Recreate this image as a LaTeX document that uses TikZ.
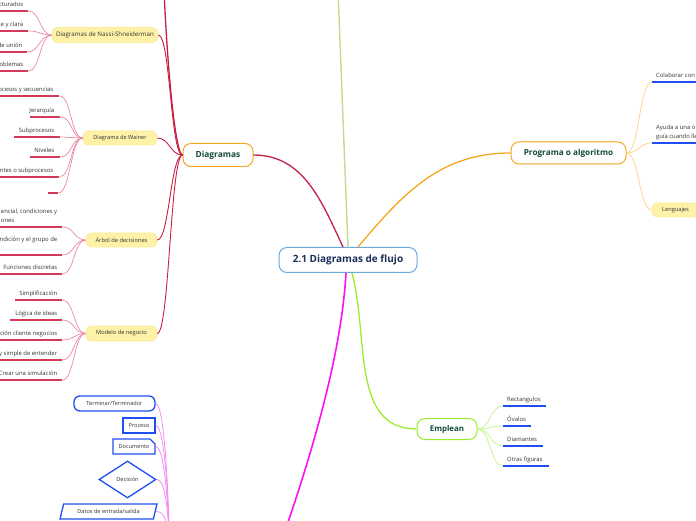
\documentclass[tikz,border=0pt]{standalone}
\usepackage{fontspec}
\setmainfont{Open Sans}
\usetikzlibrary{shapes.geometric,shapes.misc}
\definecolor{cblue}{HTML}{6AA9DC}
\definecolor{navy}{HTML}{1A2E5A}
\definecolor{corange}{HTML}{F5A623}
\definecolor{lorange}{HTML}{FDD58E}
\definecolor{dgreen}{HTML}{124A3A}
\definecolor{clime}{HTML}{98EE2A}
\definecolor{llime}{HTML}{C8F590}
\definecolor{yfill}{HTML}{FDF2A8}
\definecolor{ydraw}{HTML}{FBEA98}
\definecolor{crim}{HTML}{C81E45}
\definecolor{ulred}{HTML}{D33A5A}
\definecolor{lred}{HTML}{E88A9E}
\definecolor{cmag}{HTML}{FF10F0}
\definecolor{lmag}{HTML}{F48CF4}
\definecolor{fblue}{HTML}{1F4FF0}
\definecolor{gline}{HTML}{C6DA8E}
\definecolor{txt}{HTML}{333333}
\newcommand\leaffont{\fontsize{5.9}{8.5}\selectfont}
\newcommand\leafR[7]{%
  \node[leaf, anchor=south west] (#1) at (#2,#3) {\makebox[#4pt][r]{#6\hspace*{#5pt}}};
  \draw[#7] (#1.south west) -- (#1.south east);}
\newcommand\leafLt[7]{%
  \node[leaf, anchor=south west] (#1) at (#2,#3) {\makebox[#4pt][l]{\hspace*{#5pt}#6}};
  \draw[#7] (#1.south west) -- (#1.south east);}
\begin{document}
\begin{tikzpicture}[x=1pt,y=1pt,
  mainbox/.style={draw, line width=1pt, rounded corners=8pt, fill=white, inner sep=1pt},
  ybox/.style={draw=ydraw, fill=yfill, rounded corners=5pt, line width=0.6pt, inner sep=1pt, text=txt, font=\fontsize{5.7}{6.5}\selectfont},
  leaf/.style={inner xsep=0pt, inner ysep=3pt, text depth=1.5pt, text=txt, font=\leaffont},
  ulr/.style={draw=ulred, line width=1.8pt},
  ulb/.style={draw=fblue, line width=1.6pt},
  crimline/.style={draw=crim, line width=1.3pt},
  crimthin/.style={draw=crim, line width=0.9pt},
  redleafline/.style={draw=lred, line width=0.7pt},
  orline/.style={draw=lorange, line width=0.8pt},
  liline/.style={draw=llime, line width=0.8pt},
  magleaf/.style={draw=lmag, line width=0.8pt},
  fc/.style={draw=fblue, line width=1.3pt, fill=white, inner sep=1pt, text=txt, font=\fontsize{5.6}{6.5}\selectfont},
]
\useasboundingbox (0,0) rectangle (696,520);

% off-page ends
\coordinate (gtop) at (338,530);
\coordinate (dtop) at (164,530);
\coordinate (magend) at (260,-80);
\coordinate (fp) at (170,-70);

% main nodes
\node[mainbox, draw=cblue, text=navy, minimum width=138pt, minimum height=25pt, font=\fontsize{10}{11}\selectfont\bfseries] (c) at (348,260) {2.1 Diagramas de flujo};
\node[mainbox, draw=corange, text=dgreen, minimum width=70pt, minimum height=23pt, font=\fontsize{8.4}{9}\selectfont\bfseries] (d) at (218,365) {Diagramas};
\node[mainbox, draw=corange, text=dgreen, minimum width=115pt, minimum height=22pt, font=\fontsize{8.2}{9}\selectfont\bfseries] (p) at (568.5,367) {Programa o algoritmo};
\node[mainbox, draw=clime, text=dgreen, minimum width=60pt, minimum height=21pt, font=\fontsize{7.9}{9}\selectfont\bfseries] (e) at (447,91) {Emplean};

% main connectors
\draw[draw=gline, line width=1.4pt] (c.north) -- (gtop);
\draw[crimline] ([xshift=-5pt]c.north) to[out=115,in=0] (d.east);
\draw[draw=corange, line width=1.3pt] ([xshift=10pt]c.north) to[out=50,in=180] (p.west);
\draw[draw=clime, line width=1.3pt] ([xshift=4pt]c.south) to[out=-75,in=180] (e.west);
\draw[draw=cmag, line width=1.6pt] ([xshift=-2pt]c.south) .. controls (340,140) and (290,0) .. (magend);
\draw[crimline] (d.west) .. controls (176,365) and (168,440) .. (dtop);

% yellow sub nodes
\node[ybox, minimum width=106pt, minimum height=15pt, font=\fontsize{6.2}{7}\selectfont] (ns) at (105,485) {Diagramas de Nassi-Shneiderman};
\node[ybox, minimum width=74pt, minimum height=14pt, font=\fontsize{5.6}{6.5}\selectfont] (wa) at (120,382) {Diagrama de Wainer};
\node[ybox, minimum width=71pt, minimum height=14pt] (ar) at (121.5,280) {Árbol de decisiones};
\node[ybox, minimum width=71pt, minimum height=15pt] (mo) at (121.5,186.5) {Modelo de negocio};
\node[ybox, minimum width=47pt, minimum height=14pt] (le) at (675.5,310) {Lenguajes};

\foreach \n in {ns,wa,ar,mo} \draw[crimthin] (\n.east) .. controls +(12,0) and +(-12,0) .. (d.west);

% Nassi leaves
\leafR{n1}{-5}{509}{33}{5}{cturados}{ulr}
\leafR{n2}{-5}{489}{33}{5}{e y clara}{ulr}
\leafR{n3}{-5}{468}{32}{5}{de unión}{ulr}
\leafR{n4}{-5}{449}{33}{5}{oblemas}{ulr}
\foreach \n in {n1,n2,n3,n4} \draw[redleafline] (\n.south east) .. controls +(12,0) and +(-12,0) .. (ns.west);

% Wainer leaves
\leafR{w1}{-5}{424}{64}{6}{procesos y secuencias}{ulr}
\leafR{w2}{30}{403}{30}{6}{Jerarquía}{ulr}
\leafR{w3}{14}{383}{46}{6}{Subprocesos}{ulr}
\leafR{w4}{30}{363}{30}{6}{Niveles}{ulr}
\leafR{w5}{-5}{343}{64}{6}{ntes o subprocesos}{ulr}
\leafR{w6}{48}{327}{10}{0}{}{ulr}
\foreach \n in {w1,w2,w3,w4,w5,w6} \draw[redleafline] (\n.south east) .. controls +(12,0) and +(-12,0) .. (wa.west);

% Arbol leaves
\leafR{a1}{-5}{293}{67}{5}{\begin{tabular}[b]{@{}l@{}}encial, condiciones y\\ones\end{tabular}}{ulr}
\leafR{a2}{-5}{265}{67}{5}{\begin{tabular}[b]{@{}l@{}}ndición y el grupo de\\\mbox{}\end{tabular}}{ulr}
\leafR{a3}{-5}{246}{67}{5}{Funciones discretas}{ulr}
\foreach \n in {a1,a2,a3} \draw[redleafline] (\n.south east) .. controls +(12,0) and +(-12,0) .. (ar.west);

% Modelo leaves
\leafR{m1}{15}{220}{47}{5}{Simplificación}{ulr}
\leafR{m2}{10}{200}{52}{5}{Lógica de ideas}{ulr}
\leafR{m3}{-5}{180}{67}{5}{ción cliente negocios}{ulr}
\leafR{m4}{-5}{160}{67}{5}{y simple de entender}{ulr}
\leafR{m5}{-5}{140}{67}{5}{Crear una simulación}{ulr}
\foreach \n in {m1,m2,m3,m4,m5} \draw[redleafline] (\n.south east) .. controls +(12,0) and +(-12,0) .. (mo.west);

% Programa leaves
\leafLt{p1}{652}{438}{70}{4}{Colaborar con}{ulb}
\leafLt{p2}{652}{377}{70}{4}{\begin{tabular}[b]{@{}l@{}}Ayuda a una o\\guía cuando lle\end{tabular}}{ulb}
\draw[orline] (p.east) .. controls +(13,0) and +(-13,0) .. (p1.south west);
\draw[orline] (p.east) .. controls +(13,0) and +(-13,0) .. (p2.south west);
\draw[orline] (p.east) .. controls +(13,0) and +(-13,0) .. (le.west);

% Emplean leaves
\leafLt{e1}{503}{114}{43}{4}{Rectangulos}{ulb}
\leafLt{e2}{503}{94}{28}{4}{Óvalos}{ulb}
\leafLt{e3}{503}{74}{40}{4}{Diamantes}{ulb}
\leafLt{e4}{503}{54}{46}{4}{Otras figuras}{ulb}
\foreach \n in {e1,e2,e3,e4} \draw[liline] (e.east) .. controls +(13,0) and +(-13,0) .. (\n.south west);

% flowchart shapes
\node[fc, rounded corners=6pt, minimum width=81pt, minimum height=15pt] (t1) at (114.5,116.5) {Terminar/Terminador};
\node[fc, line width=1.6pt, minimum width=32pt, minimum height=15pt] (t2) at (139,94.5) {Proceso};
\node[fc, chamfered rectangle, chamfered rectangle corners=north east, chamfered rectangle xsep=2.5pt, chamfered rectangle ysep=2.5pt, minimum width=42pt, minimum height=15pt] (t3) at (134,73.5) {Documento};
\node[fc, diamond, inner sep=0pt, minimum width=57pt, minimum height=37pt] (t4) at (127.5,40.5) {Decisión};
\node[fc, trapezium, trapezium left angle=60, trapezium right angle=120, trapezium stretches body, minimum width=97pt, minimum height=15pt] (t5) at (108.5,8.5) {Datos de entrada/salida};
\foreach \n in {t1,t2,t3,t4,t5} \draw[magleaf] (\n.east) .. controls +(10,0) and +(0,70) .. (fp);
\end{tikzpicture}
\end{document}
